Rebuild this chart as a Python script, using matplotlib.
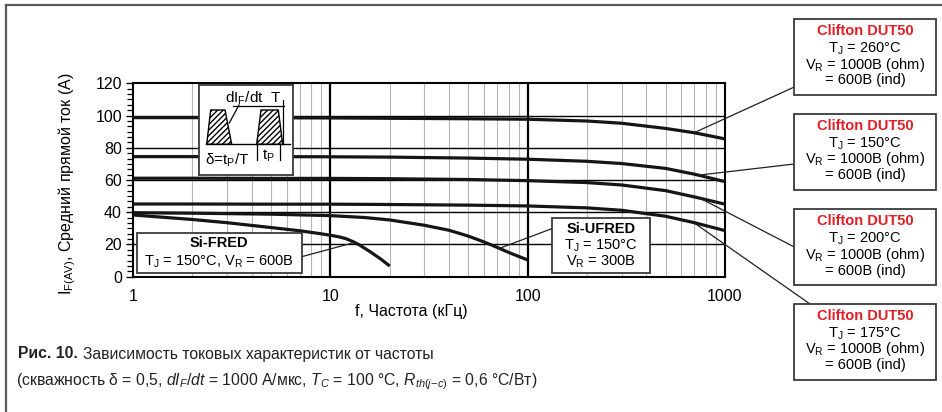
import matplotlib
matplotlib.use("Agg")
import matplotlib.pyplot as plt
from matplotlib.patches import Rectangle, Polygon
from matplotlib.patches import ConnectionPatch
from matplotlib.ticker import FixedLocator, MultipleLocator, NullFormatter

plt.rcParams["font.family"] = ["Liberation Sans", "DejaVu Sans"]
plt.rcParams["mathtext.fontset"] = "custom"
plt.rcParams["mathtext.rm"] = "Liberation Sans"
plt.rcParams["mathtext.it"] = "Liberation Sans:italic"
plt.rcParams["mathtext.bf"] = "Liberation Sans:bold"

# --- data -------------------------------------------------------------
freq_dut = [1, 2, 5, 10, 20, 50, 100, 200, 300, 500, 700, 1000]
i_dut_260 = [98.7, 98.7, 98.6, 98.5, 98.3, 98.0, 97.7, 96.6, 95.2, 92.0, 89.3, 85.5]
i_dut_150 = [74.5, 74.5, 74.5, 74.4, 74.2, 73.6, 72.9, 71.6, 70.2, 67.2, 63.6, 59.0]
i_dut_200 = [61.1, 61.1, 61.0, 61.0, 60.8, 60.3, 59.6, 58.4, 56.9, 53.4, 49.5, 45.0]
i_dut_175 = [45.1, 45.1, 45.0, 45.0, 44.8, 44.4, 43.9, 42.7, 41.2, 37.5, 33.5, 28.6]

freq_ufred = [1, 2, 5, 10, 15, 20, 30, 40, 50, 60, 70, 80, 90, 100]
i_ufred = [39.7, 39.4, 38.8, 37.9, 36.7, 35.2, 31.9, 28.8, 25.2, 21.6, 18.2, 15.1, 12.6, 10.4]

freq_fred = [1, 2, 3, 5, 7, 9, 10, 11, 12, 13, 14, 16, 18, 20]
i_fred = [38.3, 35.5, 33.5, 30.5, 28.5, 26.6, 25.7, 24.8, 23.6, 21.8, 19.8, 15.3, 11.0, 6.6]

dut_temps = ["260", "150", "200", "175"]
# points on the curves where the callout lines end (freq, current)
dut_anchors = [(705, 89.6), (735, 63.0), (750, 48.6), (705, 33.0)]
fred_anchor = (13.3, 21.3)
ufred_anchor = (72, 17.6)

x_ticks = [1, 10, 100, 1000]
y_ticks = [0, 20, 40, 60, 80, 100, 120]

W, H = 942, 412


def fp(x, y):
    # pixel position (top-left origin) -> figure fraction
    return (x / W, 1 - y / H)


fig = plt.figure(figsize=(W / 100, H / 100), dpi=100)
ax = fig.add_axes([133 / W, 1 - 276.7 / H, (725 - 133) / W, (276.7 - 83.3) / H])

ax.set_xscale("log")
ax.set_xlim(1, 1000)
ax.set_ylim(0, 120)

# grid
for d in (1, 10, 100):
    for k in range(2, 10):
        ax.axvline(d * k, color="#b5b5b5", lw=0.8, zorder=1)
for d in (10, 100):
    ax.axvline(d, color="black", lw=1.6, zorder=2)
for y in y_ticks[1:-1]:
    ax.axhline(y, color="black", lw=1.0, zorder=2)

curve_kw = dict(color="#151515", lw=2.3, zorder=4, solid_capstyle="butt",
                solid_joinstyle="round")
ax.plot(freq_dut, i_dut_260, **curve_kw)
ax.plot(freq_dut, i_dut_150, **curve_kw)
ax.plot(freq_dut, i_dut_200, **curve_kw)
ax.plot(freq_dut, i_dut_175, **curve_kw)
ax.plot(freq_ufred, i_ufred, **curve_kw)
ax.plot(freq_fred, i_fred, **curve_kw)

ax.xaxis.set_major_locator(FixedLocator(x_ticks))
ax.xaxis.set_minor_formatter(NullFormatter())
ax.set_xticklabels([str(v) for v in x_ticks])
ax.tick_params(axis="x", which="both", length=0, pad=9, labelsize=11.5)
ax.yaxis.set_major_locator(FixedLocator(y_ticks))
ax.yaxis.set_minor_locator(MultipleLocator(20 / 6))
ax.tick_params(axis="y", which="major", length=5, width=1.0, pad=3, labelsize=11.5)
ax.tick_params(axis="y", which="minor", length=4, width=0.9)
for s in ax.spines.values():
    s.set_linewidth(1.5)

ax.set_xlabel("f, Частота (кГц)", fontsize=11.5)
ax.xaxis.set_label_coords(0.47, -0.14)
ax.set_ylabel(r"I$_{\mathregular{F(AV)}}$, Средний прямой ток (А)", fontsize=11.5)
ax.yaxis.set_label_coords(-0.093, 0.48)


def box(x0, y0, x1, y1):
    fig.patches.append(Rectangle(fp(x0, y1), (x1 - x0) / W, (y1 - y0) / H,
                                 transform=fig.transFigure, fc="white",
                                 ec="#3a3a3a", lw=1.3, zorder=6))


def leader(xy_data, x, y):
    con = ConnectionPatch(xyA=xy_data, coordsA=ax.transData,
                          xyB=fp(x, y), coordsB=fig.transFigure,
                          color="#202020", lw=0.9, zorder=5)
    fig.add_artist(con)


txt = dict(fontsize=10.5, ha="center", va="center", zorder=7)

# Clifton boxes on the right
box_tops = [19, 114, 209.3, 304]
leader_starts = [(794.3, 87), (794.3, 164), (794.3, 247), (810, 304)]
for top, t, anchor, start in zip(box_tops, dut_temps, dut_anchors, leader_starts):
    box(794.3, top, 936, top + 75.5)
    cx = 865
    fig.text(*fp(cx, top + 11.7), "Clifton DUT50", color="#e41e26",
             fontweight="bold", **txt)
    fig.text(*fp(cx, top + 29.3), r"T$_{\mathregular{J}}$ = " + t + "°C", **txt)
    fig.text(*fp(cx, top + 45.5), r"V$_{\mathregular{R}}$ = 1000В (ohm)", **txt)
    fig.text(*fp(cx, top + 61.2), "= 600В (ind)", **txt)
    leader(anchor, *start)

# Si-FRED box
box(136.7, 233.3, 301.7, 273.3)
fig.text(*fp(219, 242.7), "Si-FRED", fontweight="bold", **txt)
fig.text(*fp(219, 261.5), r"T$_{\mathregular{J}}$ = 150°C, V$_{\mathregular{R}}$ = 600В", **txt)
leader(fred_anchor, 301.7, 256.7)

# Si-UFRED box
box(551.7, 218.3, 650, 273.3)
fig.text(*fp(601, 229), "Si-UFRED", fontweight="bold", **txt)
fig.text(*fp(601, 245.3), r"T$_{\mathregular{J}}$ = 150°C", **txt)
fig.text(*fp(601, 261.7), r"V$_{\mathregular{R}}$ = 300В", **txt)
leader(ufred_anchor, 551.7, 228.7)

# pulse schematic inset
ins = fig.add_axes([199 / W, 1 - 175 / H, (293.3 - 199) / W, (175 - 85) / H], zorder=6)
ins.set_xlim(199, 293.3)
ins.set_ylim(175, 85)
ins.set_xticks([])
ins.set_yticks([])
for s in ins.spines.values():
    s.set_linewidth(1.3)
    s.set_color("#3a3a3a")
ins.plot([206, 290], [144.3, 144.3], color="black", lw=1.0)
for pts in ([(206.7, 144.3), (210.7, 110), (225, 110), (231.7, 144.3)],
            [(256.7, 144.3), (261, 110), (278.3, 110), (282.7, 144.3)]):
    ins.add_patch(Polygon(pts, closed=True, fc="white", ec="black", lw=1.0,
                          hatch="//////"))
ins.plot([233, 284], [106, 106], color="black", lw=0.9)
ins.plot([283.3, 283.3], [100, 144.3], color="black", lw=0.9)
ins.plot([239, 229.3], [105, 123], color="black", lw=0.9)
ins.plot([256.7, 256.7], [138, 160], color="black", lw=0.9)
ins.plot([280, 280], [144.3, 160], color="black", lw=0.9)
ins.text(225, 98.5, r"dI$_{\mathregular{F}}$/dt  T", fontsize=11, va="center", ha="left")
ins.text(205, 160, r"δ=t$_{\mathregular{P}}$/T", fontsize=11, va="center", ha="left")
ins.text(262, 155.5, r"t$_{\mathregular{P}}$", fontsize=11, va="center", ha="left")

# outer frame (left and top edges)
fig.add_artist(plt.Line2D([6 / W, 6 / W], [0, 1 - 5 / H], transform=fig.transFigure,
                          color="#5a5a5a", lw=1.6))
fig.add_artist(plt.Line2D([6 / W, 1], [1 - 5 / H, 1 - 5 / H], transform=fig.transFigure,
                          color="#5a5a5a", lw=1.6))

# caption
cap = dict(fontsize=11.3, va="center", color="#222222")
t_head = fig.text(*fp(18, 354), "Рис. 10.", fontweight="bold", **cap)
fig.canvas.draw()
bb = t_head.get_window_extent()
fig.text((bb.x1 + 5) / W, 1 - 354 / H, "Зависимость токовых характеристик от частоты", **cap)
fig.text(*fp(16, 382),
         r"(скважность δ = 0,5, $dI_F/dt$ = 1000 А/мкс, $T_C$ = 100 °C, "
         r"$R_{th(j\!-\!c)}$ = 0,6 °C/Вт)", **cap)

fig.savefig("out.png", dpi=100)
